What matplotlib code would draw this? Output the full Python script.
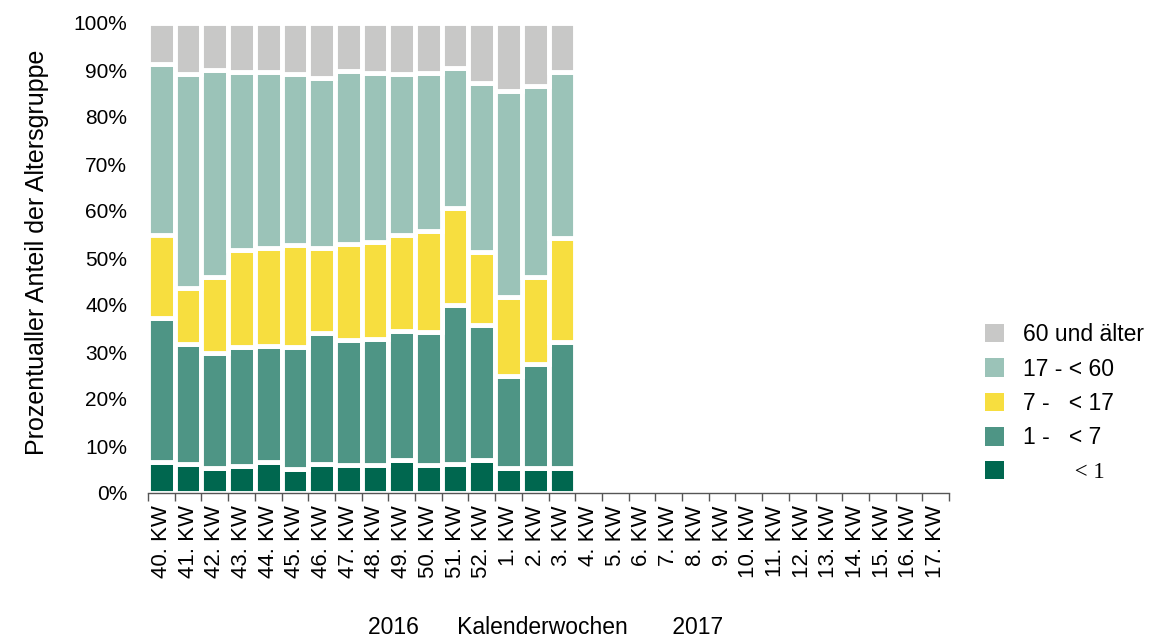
import matplotlib
matplotlib.use("Agg")
import matplotlib.pyplot as plt
import numpy as np

plt.rcParams["font.family"] = ["Liberation Sans", "DejaVu Sans"]

# Kalenderwochen 2016/2017
weeks = [f"{w}. KW" for w in list(range(40, 53)) + list(range(1, 18))]

# Anteile je Altersgruppe in % (nur bis 3. KW vorhanden)
lt1    = [6.5, 6.2, 5.3, 5.7, 6.7, 5.2, 6.2, 6.0, 6.0, 7.0, 6.0, 6.2, 7.0, 5.4, 5.3, 5.3]
a1_7   = [30.7, 25.5, 24.4, 25.4, 24.6, 25.9, 27.8, 26.6, 26.8, 27.5, 28.3, 33.7, 28.7, 19.6, 22.2, 26.8]
a7_17  = [17.8, 11.9, 16.3, 20.6, 20.8, 21.7, 18.1, 20.4, 20.7, 20.4, 21.5, 20.7, 15.6, 16.6, 18.5, 22.2]
a17_60 = [36.3, 45.6, 43.9, 37.9, 37.4, 36.3, 36.3, 36.8, 35.8, 34.3, 33.5, 29.8, 35.9, 43.9, 40.7, 35.3]
a60    = [8.7, 10.8, 10.1, 10.4, 10.5, 10.9, 11.6, 10.2, 10.7, 10.8, 10.7, 9.6, 12.8, 14.5, 13.3, 10.4]

series = [
    ("         < 1", lt1, "#00674F"),
    ("1 -   < 7", a1_7, "#4E9585"),
    ("7 -   < 17", a7_17, "#F7DE3F"),
    ("17 - < 60", a17_60, "#9BC3B8"),
    ("60 und älter", a60, "#C8C8C7"),
]

fig = plt.figure(figsize=(11.57, 6.37), dpi=100)
ax = fig.add_axes([148 / 1157, 1 - 493 / 637, 801 / 1157, 470 / 637])

x = np.arange(len(lt1))
bottom = np.zeros(len(lt1))
handles = []
for label, vals, color in series:
    vals = np.array(vals)
    b = ax.bar(x, vals, width=1.0, bottom=bottom, color=color,
               edgecolor="white", linewidth=3.5, label=label)
    handles.append(b)
    bottom += vals

ax.set_xlim(-0.5, len(weeks) - 0.5)
ax.set_ylim(0, 100)

# Achsen
for s in ["top", "right", "left"]:
    ax.spines[s].set_visible(False)
ax.spines["bottom"].set_color("#555555")
ax.spines["bottom"].set_linewidth(1)

ax.set_xticks(np.arange(len(weeks)))
ax.set_xticklabels(weeks, rotation=90, fontsize=16)
ax.set_xticks(np.arange(len(weeks) + 1) - 0.5, minor=True)
ax.tick_params(axis="x", which="major", length=0, pad=9)
ax.tick_params(axis="x", which="minor", length=6, width=1, color="#555555")

ax.set_yticks(np.arange(0, 101, 10))
ax.set_yticklabels([f"{v}%" for v in range(0, 101, 10)], fontsize=15)
ax.tick_params(axis="y", length=0, pad=15)

fig.text(37 / 1157, 1 - 252 / 637, "Prozentualler Anteil der Altersgruppe",
         rotation=90, ha="center", va="center", fontsize=18)
fig.text(546 / 1157, 1 - 627 / 637, "2016      Kalenderwochen       2017",
         ha="center", va="center", fontsize=16.5)

leg = fig.legend(handles[::-1], [s[0] for s in series][::-1],
                 loc="center left", bbox_to_anchor=(985 / 1157, 1 - 403 / 637),
                 bbox_transform=fig.transFigure, frameon=False, fontsize=16.5,
                 handlelength=0.85, handleheight=0.85, handletextpad=0.8,
                 labelspacing=0.5, borderpad=0, borderaxespad=0)
for h in leg.legend_handles:
    h.set_edgecolor("none")
leg.get_texts()[-1].set_family(["Liberation Serif", "DejaVu Serif"])

fig.savefig("out.png", dpi=100)
